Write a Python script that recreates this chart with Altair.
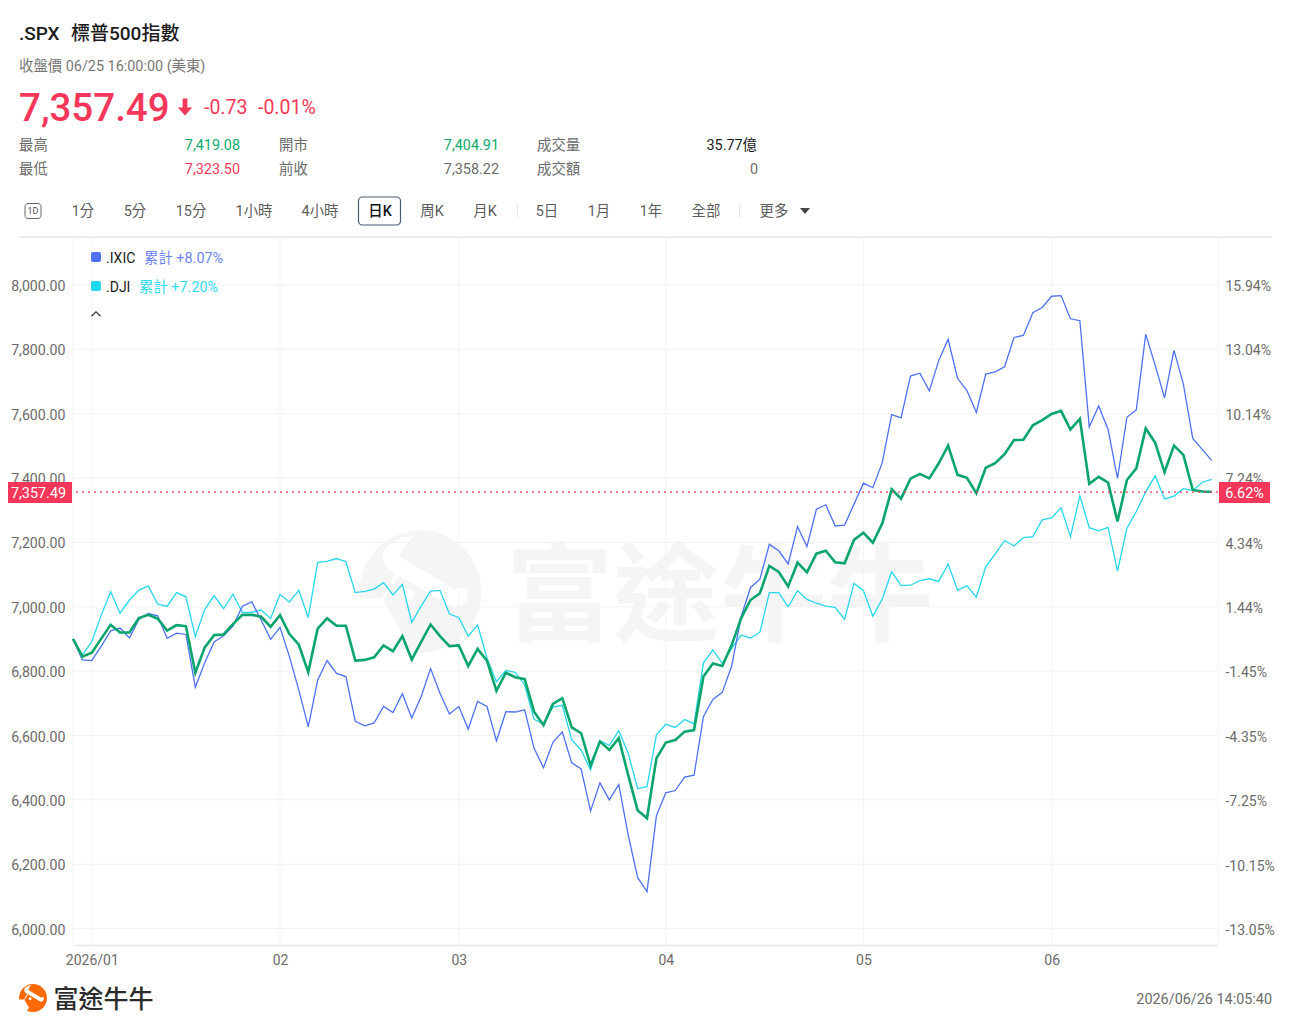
import altair as alt
import pandas as pd

SPX = [6900, 6845, 6857, 6901, 6944, 6920, 6920, 6965, 6975, 6963,
       6926, 6943, 6940, 6795, 6874, 6912, 6914, 6946, 6975, 6975,
       6969, 6938, 6974, 6915, 6882, 6797, 6932, 6964, 6941, 6941,
       6833, 6835, 6843, 6880, 6862, 6909, 6836, 6891, 6945, 6909,
       6878, 6880, 6816, 6869, 6832, 6739, 6795, 6781, 6775, 6674,
       6632, 6698, 6716, 6625, 6607, 6507, 6581, 6555, 6592, 6477,
       6368, 6343, 6529, 6578, 6586, 6612, 6617, 6783, 6824, 6816,
       6881, 6964, 7021, 7042, 7127, 7108, 7063, 7137, 7107, 7165,
       7174, 7138, 7135, 7208, 7230, 7199, 7259, 7365, 7336, 7398,
       7413, 7399, 7446, 7501, 7410, 7401, 7353, 7432, 7446, 7474,
       7518, 7519, 7564, 7580, 7599, 7609, 7551, 7584, 7382, 7404,
       7386, 7265, 7394, 7430, 7554, 7510, 7418, 7501, 7472, 7363,
       7358.22, 7357.49]
IXIC = [6900, 6835, 6833, 6878, 6925, 6934, 6903, 6961, 6979, 6972,
        6902, 6918, 6914, 6750, 6826, 6891, 6910, 6940, 7002, 7015,
        6959, 6899, 6936, 6845, 6741, 6627, 6772, 6833, 6793, 6783,
        6644, 6630, 6639, 6690, 6671, 6730, 6654, 6721, 6808, 6731,
        6667, 6690, 6620, 6706, 6690, 6583, 6674, 6673, 6680, 6560,
        6500, 6579, 6611, 6515, 6496, 6365, 6453, 6400, 6448, 6291,
        6159, 6115, 6351, 6422, 6429, 6471, 6477, 6659, 6712, 6734,
        6816, 6969, 7060, 7086, 7194, 7174, 7133, 7249, 7187, 7303,
        7317, 7251, 7254, 7319, 7384, 7370, 7448, 7597, 7587, 7717,
        7726, 7671, 7765, 7831, 7710, 7672, 7604, 7723, 7730, 7746,
        7837, 7843, 7914, 7930, 7965, 7967, 7895, 7889, 7559, 7624,
        7551, 7399, 7589, 7612, 7847, 7751, 7649, 7797, 7692, 7523,
        7489, 7455]
DJI = [6900, 6850, 6892, 6974, 7047, 6980, 7021, 7052, 7065, 7008,
       7001, 7044, 7031, 6907, 6992, 7035, 6994, 7039, 6982, 6983,
       6990, 6964, 7038, 7015, 7051, 6966, 7138, 7141, 7150, 7140,
       7044, 7048, 7055, 7075, 7037, 7070, 6952, 7002, 7049, 7051,
       6978, 6966, 6909, 6943, 6840, 6767, 6802, 6796, 6757, 6650,
       6636, 6688, 6694, 6586, 6555, 6493, 6584, 6569, 6615, 6545,
       6435, 6441, 6602, 6635, 6625, 6650, 6636, 6826, 6866, 6824,
       6871, 6912, 6903, 6921, 7044, 7044, 7000, 7050, 7023, 7011,
       7002, 6998, 6961, 7073, 7050, 6971, 7024, 7109, 7066, 7067,
       7081, 7087, 7079, 7133, 7052, 7065, 7030, 7125, 7164, 7206,
       7189, 7215, 7218, 7270, 7276, 7308, 7218, 7345, 7246, 7236,
       7247, 7111, 7244, 7296, 7357, 7407, 7335, 7344, 7367, 7361,
       7387, 7396]
DAY = list(range(len(SPX)))
X_TICKS = [2, 22, 41, 63, 84, 104]
X_LABELS = ["2026/01", "02", "03", "04", "05", "06"]
Y_TICKS = [6000, 6200, 6400, 6600, 6800, 7000, 7200, 7400, 7600, 7800, 8000]
PCT_TICKS = [-13.05, -10.15, -7.25, -4.35, -1.45, 1.44, 4.34, 7.24, 10.14, 13.04, 15.94]
LAST = 7357.49
LAST_PCT = 6.62

LEFT, TOP = 73, 238
W, H = 1145, 707
X_MAX = 121.68
FONT = "Roboto, 'Noto Sans CJK TC', sans-serif"
CJK = "'Noto Sans CJK TC', sans-serif"
RED, GREEN = "#f5385a", "#0fa970"
GREY, DARK = "#6b6b6b", "#1c1c1c"
GRID = "#f3f3f5"
LINE_G, LINE_B, LINE_C = "#0aa56c", "#4f72f5", "#26d6ee"

x_scale = alt.Scale(domain=[0, X_MAX], nice=False, zero=False)
y_scale = alt.Scale(domain=[5949, 8146], nice=False, zero=False)
p_scale = alt.Scale(domain=[-13.77, 18.056], nice=False, zero=False)
x_axis = alt.Axis(
    values=X_TICKS, title=None, ticks=False, grid=False, domain=True, domainColor="#e6e6e6",
    domainWidth=1.5, labelPadding=8, labelFont=FONT, labelFontSize=14, labelColor=GREY,
    labelExpr="{" + ",".join(f"'{a}':'{b}'" for a, b in zip(X_TICKS, X_LABELS)) + "}[datum.value]",
    labelOverlap=False)


def txt(s, x, y, size=14.4, color=GREY, weight=400, align="left", font=FONT):
    return alt.Chart().mark_text(
        text=s, align=align, baseline="middle", fontSize=size, color=color,
        fontWeight=weight, font=font,
    ).encode(x=alt.value(x - LEFT), y=alt.value(y + 1 - TOP))


def box(x1, x2, y1, y2, fill="transparent", stroke=None, radius=0, sw=1):
    kw = {"fill": fill, "cornerRadius": radius}
    if stroke:
        kw.update(stroke=stroke, strokeWidth=sw)
    return alt.Chart().mark_rect(**kw).encode(
        x=alt.value(x1 - LEFT), x2=alt.value(x2 - LEFT),
        y=alt.value(y1 - TOP), y2=alt.value(y2 - TOP))


def sym(path, x, y, size, fill=None, stroke=None, sw=1):
    kw = {"shape": path, "size": size, "opacity": 1}
    if fill:
        kw.update(filled=True, fill=fill, strokeWidth=0)
    else:
        kw.update(filled=False, stroke=stroke, strokeWidth=sw)
    return alt.Chart().mark_point(**kw).encode(
        x=alt.value(x - LEFT), y=alt.value(y - TOP))


CIRCLE = "M-183,0 A183,183 0 1,1 183,0 A183,183 0 1,1 -183,0 Z"
CUT = ("M-16,-166 C-71,-164 -113,-139 -114,-104 C-114,-79 -96,-64 -76,-54 L99,48 "
       "C129,51 144,26 141,-9 L99,-9 L-61,-104 C-56,-134 -41,-152 -16,-166 Z "
       "M-76,-54 L-116,21 L-191,21 L-191,106 L-91,181 L-51,131 L-111,26 L-66,-46 Z "
       "M-55,9 A18,18 0 1,1 -19,9 A18,18 0 1,1 -55,9 Z")
ARROW = "M-0.28,-1 L0.28,-1 L0.28,0.05 L0.85,0.05 L0,1 L-0.85,0.05 L-0.28,0.05 Z"
CHEVRON = "M-1,0.5 L0,-0.5 L1,0.5"
CARET = "M-1,-0.6 L1,-0.6 L0,0.6 Z"


def logo(x, y, r, color):
    size = (2 * r / 183) ** 2
    return [sym(CIRCLE, x, y, size, fill=color), sym(CUT, x, y, size, fill="#ffffff")]


layers = []
# watermark
layers += logo(420.5, 591.5, 61, "#f5f5f5")
layers.append(txt("富途牛牛", 506, 600, 107, "#f5f5f5", 700, font=CJK))

# grid
grid_h = alt.Chart(pd.DataFrame({"v": Y_TICKS})).mark_rule(color=GRID, strokeWidth=1).encode(
    y=alt.Y("v:Q", scale=y_scale, axis=alt.Axis(
        values=Y_TICKS, orient="left", title=None, ticks=False, domain=False, grid=False,
        labelExpr="format(datum.value, ',.2f')", labelPadding=8, labelOffset=1.5, labelFont=FONT,
        labelFontSize=14.2, labelColor=GREY)))
grid_v = alt.Chart(pd.DataFrame({"v": X_TICKS + [0, X_MAX]})).mark_rule(color=GRID, strokeWidth=1).encode(
    x=alt.X("v:Q", scale=x_scale, axis=x_axis))
layers += [grid_h, grid_v]


def series(values, color, width):
    df = pd.DataFrame({"day": DAY, "v": values})
    return alt.Chart(df).mark_line(color=color, strokeWidth=width, interpolate="linear").encode(
        x=alt.X("day:Q", scale=x_scale, axis=x_axis),
        y=alt.Y("v:Q", scale=y_scale, axis=None))


layers += [series(DJI, LINE_C, 1.3), series(IXIC, LINE_B, 1.3), series(SPX, LINE_G, 2.6)]

# last-price line on the percentage scale, which also carries the right axis
pct_rule = alt.Chart(pd.DataFrame({"p": [LAST_PCT]})).mark_rule(
    color=RED, strokeDash=[2, 4], strokeWidth=1.2).encode(
    y=alt.Y("p:Q", scale=p_scale, axis=alt.Axis(
        values=PCT_TICKS, orient="right", title=None, ticks=False, domain=False, grid=False,
        labelExpr="replace(format(datum.value, '.2f'), '\u2212', '-') + '%'", labelPadding=7,
        labelOffset=1.5, labelFont=FONT, labelFontSize=14, labelColor=GREY)))
layers.append(pct_rule)

# price tags
layers += [
    box(5, 72, 482, 503, RED), txt("7,357.49", 38.5, 493, 14.4, "#ffffff", align="center"),
    box(1219, 1270, 482, 503, RED), txt("6.62%", 1244.5, 493, 14.4, "#ffffff", align="center"),
]

# legend
layers += [
    box(91, 101, 252, 262, LINE_B, radius=2),
    txt(".IXIC", 106, 258, 14, DARK), txt("累計 +8.07%", 144, 258, 14.4, "#6d84f7"),
    box(91, 101, 281, 291, "#1fd8ee", radius=2),
    txt(".DJI", 106, 287, 14, DARK), txt("累計 +7.20%", 139, 287, 14.4, "#2fdcef"),
    sym(CHEVRON, 96, 314, 81, stroke="#333333", sw=1.2),
]

# header
layers += [
    txt(".SPX", 19, 33, 19, DARK, 500),
    txt("標普500指數", 71, 33, 19, DARK, 500),
    txt("收盤價 06/25 16:00:00 (美東)", 19, 66, 14.4, "#777777"),
    txt("7,357.49", 19, 108, 38.5, RED, 500),
    sym(ARROW, 185, 107, 289, fill=RED),
    txt("-0.73", 204, 107, 19.5, RED), txt("-0.01%", 258, 107, 19.5, RED),
    txt("最高", 19, 145, 14.4), txt("7,419.08", 240, 145, 14.4, GREEN, align="right"),
    txt("開市", 279, 145, 14.4), txt("7,404.91", 499, 145, 14.4, GREEN, align="right"),
    txt("成交量", 537, 145, 14.4), txt("35.77億", 757, 145, 14.4, DARK, align="right"),
    txt("最低", 19, 169, 14.4), txt("7,323.50", 240, 169, 14.4, RED, align="right"),
    txt("前收", 279, 169, 14.4), txt("7,358.22", 499, 169, 14.4, GREY, align="right"),
    txt("成交額", 537, 169, 14.4), txt("0", 758, 169, 14.4, GREY, align="right"),
]

# period selector
BTN = [("1分", 83), ("5分", 135), ("15分", 191), ("1小時", 254), ("4小時", 320),
       ("周K", 432), ("月K", 485), ("5日", 547), ("1月", 599), ("1年", 651),
       ("全部", 706), ("更多", 774)]
layers += [txt(s, x, 211, 14.4, "#5c5c5c", align="center") for s, x in BTN]
layers += [
    box(25, 41, 203.5, 218.5, "#ffffff", stroke="#666666", radius=3, sw=1),
    txt("1D", 33, 210, 9, "#555555", align="center"),
    box(358.5, 400.5, 197, 225, "#ffffff", stroke="#4a5a70", radius=4, sw=1.2),
    txt("日K", 380, 211, 14.4, "#111111", 500, align="center"),
    box(517, 518, 204, 218, "#e8e8e8"),
    box(739, 740, 204, 218, "#e8e8e8"),
    sym(CARET, 805, 211, 100, fill="#444444"),
    box(19, 1272, 236.5, 238, "#e8e8e8"),
]

# footer
layers += logo(33, 998, 14, "#ff6a00")
layers += [
    txt("富途牛牛", 53.5, 999, 25, "#2b2b2b", 500, font=CJK),
    txt("2026/06/26 14:05:40", 1272, 998.5, 14.4, GREY, align="right"),
]

chart = alt.layer(*layers).resolve_scale(y="independent").properties(
    width=W, height=H,
    padding={"left": LEFT - 8, "top": TOP - 8, "right": 65, "bottom": 78},
    autosize=alt.AutoSizeParams(type="none"),
    background="#ffffff",
).configure_view(stroke=None)

chart.save("out.html", embed_options={"renderer": "svg", "actions": False})
